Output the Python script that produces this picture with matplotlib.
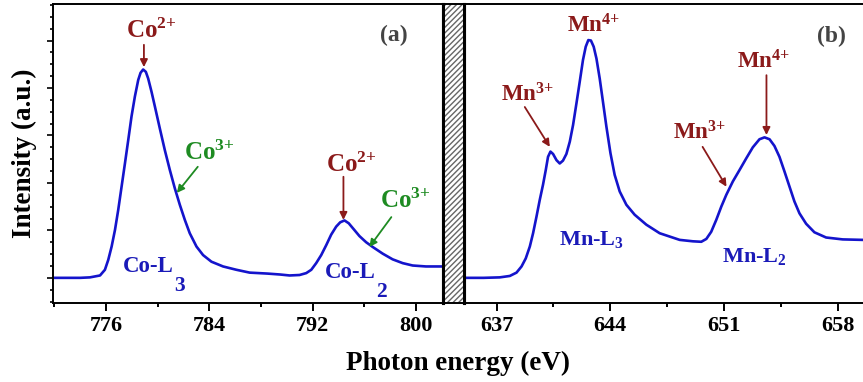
import matplotlib
matplotlib.use("Agg")
import matplotlib.pyplot as plt
from matplotlib.patches import Rectangle
from matplotlib.ticker import MultipleLocator, NullFormatter, FixedLocator

plt.rcParams['font.family'] = ['Liberation Serif', 'DejaVu Serif']
plt.rcParams['font.weight'] = 'bold'
plt.rcParams['mathtext.fontset'] = 'custom'
plt.rcParams['mathtext.rm'] = 'Liberation Serif:bold'
plt.rcParams['mathtext.bf'] = 'Liberation Serif:bold'
plt.rcParams['mathtext.it'] = 'Liberation Serif:bold'

# ---- data: Co L-edge (panel a) ----
co_energy = [772.0, 774.0, 774.76, 775.54, 775.92, 776.18, 776.44, 776.70, 776.95, 777.21,
             777.47, 777.73, 777.98, 778.24, 778.50, 778.68, 778.88, 779.09, 779.27, 779.53,
             779.79, 780.17, 780.56, 780.95, 781.33, 781.72, 782.11, 782.49, 783.01, 783.52,
             784.17, 785.07, 786.10, 787.13, 788.5, 789.5, 790.22, 790.99, 791.51, 791.90,
             792.28, 792.67, 793.06, 793.44, 793.83, 794.14, 794.47, 794.80, 795.17, 795.63,
             796.15, 796.66, 797.43, 798.20, 798.98, 799.75, 800.78, 801.94]
co_intensity = [0.0, 0.0, 0.01, 0.05, 0.17, 0.38, 0.66, 1.01, 1.43, 1.92,
                2.41, 2.91, 3.40, 3.82, 4.17, 4.32, 4.39, 4.34, 4.20, 3.92,
                3.61, 3.15, 2.69, 2.27, 1.89, 1.54, 1.22, 0.94, 0.66, 0.48,
                0.34, 0.24, 0.17, 0.11, 0.09, 0.07, 0.05, 0.06, 0.10, 0.17,
                0.31, 0.48, 0.69, 0.91, 1.08, 1.17, 1.21, 1.15, 1.03, 0.88,
                0.75, 0.65, 0.51, 0.39, 0.31, 0.26, 0.24, 0.24]

# ---- data: Mn L-edge (panel b) ----
mn_energy = [634.95, 636.2, 637.20, 637.82, 638.23, 638.54, 638.80, 639.05, 639.25, 639.46,
             639.66, 639.86, 640.03, 640.17, 640.32, 640.48, 640.69, 640.89, 641.09, 641.30,
             641.51, 641.71, 641.92, 642.12, 642.32, 642.49, 642.65, 642.81, 642.98, 643.15,
             643.35, 643.55, 643.76, 644.01, 644.27, 644.58, 644.99, 645.50, 646.22, 647.04,
             648.27, 649.08, 649.60, 649.91, 650.21, 650.52, 650.83, 651.14, 651.54, 651.95,
             652.37, 652.77, 653.18, 653.49, 653.80, 654.10, 654.41, 654.72, 655.03, 655.33,
             655.64, 656.05, 656.56, 657.28, 658.30, 659.52]
mn_intensity = [0.0, 0.0, 0.01, 0.04, 0.11, 0.24, 0.41, 0.66, 0.94, 1.29,
                1.64, 1.96, 2.27, 2.55, 2.66, 2.61, 2.48, 2.41, 2.47, 2.61,
                2.87, 3.22, 3.68, 4.13, 4.59, 4.87, 5.01, 5.00, 4.87, 4.62,
                4.20, 3.71, 3.19, 2.63, 2.17, 1.82, 1.54, 1.33, 1.12, 0.94,
                0.80, 0.77, 0.76, 0.82, 0.97, 1.22, 1.50, 1.75, 2.03, 2.27,
                2.52, 2.75, 2.92, 2.96, 2.92, 2.78, 2.55, 2.24, 1.92, 1.61,
                1.36, 1.14, 0.96, 0.85, 0.81, 0.80]

co_xticks = [776, 784, 792, 800]
mn_xticks = [637, 644, 651, 658]

LINE = '#1414CC'
TXTBLUE = '#1a1ab8'
RED = '#8B1A1A'
GREEN = '#1E8B22'

W, H = 863, 382
fig = plt.figure(figsize=(W / 100, H / 100), dpi=100)
ax1 = fig.add_axes([53 / W, 79 / H, 390 / W, 299 / H])
ax2 = fig.add_axes([464 / W, 79 / H, 399 / W, 299 / H])

ax1.plot(co_energy, co_intensity, color=LINE, lw=1.9, solid_joinstyle='round')
ax2.plot(mn_energy, mn_intensity, color=LINE, lw=1.9, solid_joinstyle='round')

ax1.set_xlim(771.9, 802.1)
ax2.set_xlim(635.0, 659.55)
for ax in (ax1, ax2):
    ax.set_ylim(-0.53, 5.77)
    for s in ax.spines.values():
        s.set_linewidth(1.4)
    ax.tick_params(axis='x', which='major', direction='out', length=5.5, width=1.4,
                   labelsize=16, pad=4)
    ax.tick_params(axis='x', which='minor', direction='out', length=3, width=1.4)

ax1.set_xticks(co_xticks)
ax1.xaxis.set_minor_locator(MultipleLocator(4))
ax2.set_xticks(mn_xticks)
ax2.xaxis.set_minor_locator(FixedLocator([640.5, 647.5, 654.5]))

ax1.yaxis.set_major_locator(MultipleLocator(1))
ax1.yaxis.set_minor_locator(MultipleLocator(0.25))
ax1.yaxis.set_major_formatter(NullFormatter())
ax1.tick_params(axis='y', which='major', direction='out', length=4, width=1.2)
ax1.tick_params(axis='y', which='minor', direction='out', length=2.5, width=1.2)
ax2.set_yticks([])
ax2.spines['right'].set_visible(False)
ax1.spines['right'].set_linewidth(2.2)
ax2.spines['left'].set_linewidth(2.2)

# break region
fig.add_artist(Rectangle((443 / W, 79 / H), 21 / W, 299 / H, transform=fig.transFigure,
                         facecolor='white', edgecolor='#666666', hatch='//////', lw=0, zorder=3))
fig.add_artist(Rectangle((443 / W, 79 / H), 21 / W, 299 / H, transform=fig.transFigure,
                         facecolor='none', edgecolor='black', lw=1.4, zorder=4))
fig.add_artist(plt.Line2D([443 / W, 443 / W], [79 / H, 378 / H], transform=fig.transFigure,
                          color='black', lw=2.2, zorder=5))
fig.add_artist(plt.Line2D([464 / W, 464 / W], [79 / H, 378 / H], transform=fig.transFigure,
                          color='black', lw=2.2, zorder=5))

FS_CO = 18
FS_MN = 16.5
FS_L = 16.5
arrow = lambda c: dict(arrowstyle='-|>', color=c, lw=1.3, mutation_scale=11, shrinkA=0, shrinkB=0)

# panel a annotations
ax1.text(779.5, 5.05, r'$\mathrm{Co}^{2{+}}$', color=RED, fontsize=FS_CO, ha='center', va='baseline')
ax1.annotate('', xy=(778.94, 4.44), xytext=(778.94, 4.91), arrowprops=arrow(RED))
ax1.text(784.0, 2.48, r'$\mathrm{Co}^{3{+}}$', color=GREEN, fontsize=FS_CO, ha='center', va='baseline')
ax1.annotate('', xy=(781.49, 1.79), xytext=(783.11, 2.34), arrowprops=arrow(GREEN))
t = ax1.text(777.31, 0.13, 'Co-L', color=TXTBLUE, fontsize=FS_L, ha='left', va='baseline')
ax1.annotate('3', xy=(1, 0), xycoords=t, xytext=(0.5, -10), textcoords='offset points',
             color=TXTBLUE, fontsize=FS_L - 1, ha='left', va='baseline')
ax1.text(795.0, 2.23, r'$\mathrm{Co}^{2{+}}$', color=RED, fontsize=FS_CO, ha='center', va='baseline')
ax1.annotate('', xy=(794.39, 1.22), xytext=(794.39, 2.13), arrowprops=arrow(RED))
ax1.text(799.2, 1.47, r'$\mathrm{Co}^{3{+}}$', color=GREEN, fontsize=FS_CO, ha='center', va='baseline')
ax1.annotate('', xy=(796.4, 0.65), xytext=(798.1, 1.28), arrowprops=arrow(GREEN))
t = ax1.text(792.92, 0.0, 'Co-L', color=TXTBLUE, fontsize=FS_L, ha='left', va='baseline')
ax1.annotate('2', xy=(1, 0), xycoords=t, xytext=(0.5, -10), textcoords='offset points',
             color=TXTBLUE, fontsize=FS_L - 1, ha='left', va='baseline')
ax1.text(0.873, 0.896, '(a)', transform=ax1.transAxes, color='#444444', fontsize=17,
         ha='center', va='center')

# panel b annotations
ax2.text(642.98, 5.18, r'$\mathrm{Mn}^{4{+}}$', color=RED, fontsize=FS_MN, ha='center', va='baseline')
ax2.text(638.89, 3.71, r'$\mathrm{Mn}^{3{+}}$', color=RED, fontsize=FS_MN, ha='center', va='baseline')
ax2.annotate('', xy=(640.28, 2.76), xytext=(638.74, 3.6), arrowprops=arrow(RED))
ax2.text(640.83, 0.69, r'$\mathrm{Mn\text{-}L}_{3}$', color=TXTBLUE, fontsize=16,
         ha='left', va='baseline')
ax2.text(649.46, 2.91, r'$\mathrm{Mn}^{3{+}}$', color=RED, fontsize=FS_MN, ha='center', va='baseline')
ax2.annotate('', xy=(651.15, 1.92), xytext=(649.68, 2.76), arrowprops=arrow(RED))
ax2.text(653.43, 4.42, r'$\mathrm{Mn}^{4{+}}$', color=RED, fontsize=FS_MN, ha='center', va='baseline')
ax2.annotate('', xy=(653.61, 3.01), xytext=(653.61, 4.27), arrowprops=arrow(RED))
ax2.text(650.85, 0.34, r'$\mathrm{Mn\text{-}L}_{2}$', color=TXTBLUE, fontsize=16,
         ha='left', va='baseline')
ax2.text(0.921, 0.893, '(b)', transform=ax2.transAxes, color='#444444', fontsize=17,
         ha='center', va='center')

fig.text(458 / W, 12 / H, 'Photon energy (eV)', fontsize=19.5, ha='center', va='baseline')
fig.text(24 / W, 0.598, 'Intensity (a.u.)', fontsize=19.5, rotation=90, ha='center', va='center')

fig.savefig('out.png', dpi=100)
